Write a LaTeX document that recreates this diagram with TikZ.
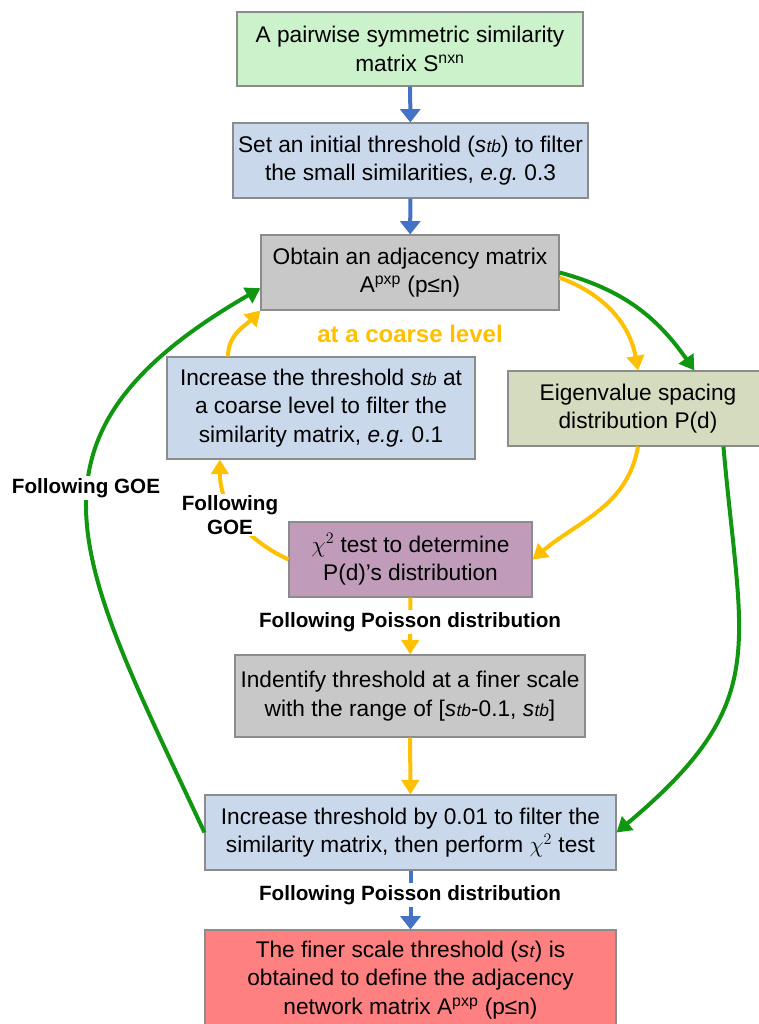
\documentclass[tikz,border=0pt]{standalone}
\usepackage{fontspec}
\setmainfont{Liberation Sans}
\usetikzlibrary{arrows.meta}
\frenchspacing
\definecolor{fillgreen}{RGB}{204,242,204}
\definecolor{fillblue}{RGB}{201,216,235}
\definecolor{fillgray}{RGB}{200,200,200}
\definecolor{fillolive}{RGB}{213,219,190}
\definecolor{fillpurple}{RGB}{192,156,186}
\definecolor{fillred}{RGB}{255,128,128}
\definecolor{edgegray}{RGB}{140,140,140}
\definecolor{flowblue}{RGB}{68,114,196}
\definecolor{flowgold}{RGB}{255,192,0}
\definecolor{flowgreen}{RGB}{17,150,17}
\newcommand{\stb}{\textit{s\kern0.3pt{\fontsize{13}{13}\selectfont tb}}}
\newcommand{\stfine}{\textit{s\kern0.3pt{\fontsize{13}{13}\selectfont t}}}
\begin{document}
\begin{tikzpicture}[x=0.75pt,y=-0.75pt,
  box/.style={draw=edgegray,line width=0.8pt,align=center,inner sep=0pt,font=\fontsize{17}{21.5}\selectfont},
  lbl/.style={font=\fontsize{15.5}{18.5}\selectfont\bfseries,fill=white,inner sep=2pt,align=center},
  blueflow/.style={line width=3pt,draw=flowblue,-{Triangle[width=15pt,length=10pt]}},
  goldflow/.style={line width=3pt,draw=flowgold,-{Triangle[width=13pt,length=11pt]}},
  greenflow/.style={line width=3pt,draw=flowgreen,-{Triangle[width=13pt,length=11pt]}}]
 \useasboundingbox (0,0) rectangle (758,1024);
 \node (box 1) at (410,49) [box,fill=fillgreen,minimum width=259.5pt,minimum height=55.5pt] {A pairwise symmetric similarity\\matrix S\textsuperscript{nxn}};
 \node (box 2) at (410.5,160.5) [box,fill=fillblue,minimum width=266.25pt,minimum height=56.25pt] {Set an initial threshold (\stb) to filter\\the small similarities, \textit{e.g.} 0.3};
 \node (box 3) at (410,272.5) [box,fill=fillgray,minimum width=223.5pt,minimum height=56.25pt] {Obtain an adjacency matrix\\A\textsuperscript{pxp} (p≤n)};
 \node (box 4) at (321,408) [box,fill=fillblue,minimum width=231pt,minimum height=76.5pt] {Increase the threshold \stb{} at\\a coarse level to filter the\\similarity matrix, \textit{e.g.} 0.1};
 \node (box 5) at (638,408.5) [box,fill=fillolive,minimum width=195pt,minimum height=56.25pt] {Eigenvalue spacing\\distribution P(d)};
 \node (box 6) at (410.5,559.5) [box,fill=fillpurple,minimum width=182.25pt,minimum height=56.25pt] {$\chi^2$ test to determine\\P(d)’s distribution};
 \node (box 7) at (410,696) [box,fill=fillgray,minimum width=262.5pt,minimum height=61.5pt] {Indentify threshold at a finer scale\\with the range of [\stb-0.1, \stb]};
 \node (box 8) at (410.5,832.5) [box,fill=fillblue,minimum width=308.25pt,minimum height=56.25pt] {Increase threshold by 0.01 to filter the\\similarity matrix, then perform $\chi^2$ test};
 \node (box 9) at (410.5,980) [box,fill=fillred,minimum width=308.25pt,minimum height=75pt] {The finer scale threshold (\stfine) is\\obtained to define the adjacency\\network matrix A\textsuperscript{pxp} (p≤n)};
 \draw[blueflow] (box 1) -- (box 2);
 \draw[blueflow] (box 2) -- (box 3);
 \draw[blueflow] (box 8) -- (box 9);
 \draw[goldflow] (box 4.151) to[out=90,in=225] (box 3.south west);
 \draw[goldflow] (box 3.-2) to[out=-20,in=100] (box 5.north);
 \draw[greenflow] (box 3.east) to[out=-15,in=125] (box 5.34);
 \draw[goldflow] (box 5.south) to[out=-100,in=40] (box 6.east);
 \draw[goldflow] (box 6.west) to[out=155,in=-90] (box 4.207);
 \draw[goldflow] (box 6) -- (box 7);
 \draw[goldflow] (box 7) -- (box 8);
 \draw[greenflow] (box 5.-24) to[out=-85,in=40,looseness=1.3] (box 8.east);
 \draw[greenflow] (box 8.west) to[out=115,in=210,looseness=1.4] (box 3.-174);
 \node (coarse) at (410,334) [font=\fontsize{18}{21}\selectfont\bfseries,text=flowgold] {at a coarse level};
 \node (goe outer) at (86,488) [lbl] {Following GOE};
 \node (goe inner) at (230,515) [lbl,inner sep=1pt] {Following\\GOE};
 \node (poisson 1) at (410,622) [lbl] {Following Poisson distribution};
 \node (poisson 2) at (410,895) [lbl] {Following Poisson distribution};
\end{tikzpicture}
\end{document}
